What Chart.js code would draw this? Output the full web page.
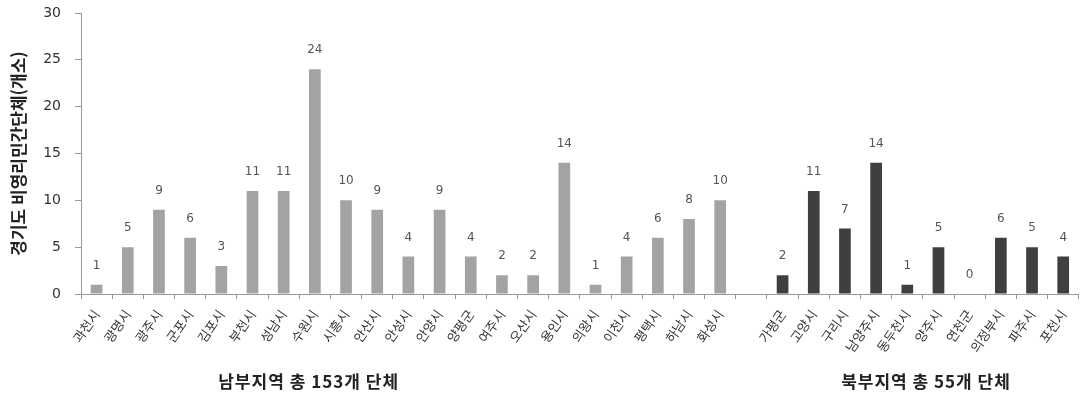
<!DOCTYPE html>
<html lang="ko">
<head>
    <meta charset="UTF-8">
    <title>경기도 비영리민간단체</title>
    <script src="https://cdn.jsdelivr.net/npm/chart.js"></script>
    <style>
        body { margin: 0; background: #fff; }
        .chart-box { width: 1084px; height: 394px; }
    </style>
</head>
<body>
    <div class="chart-box">
        <canvas id="ngoChart"></canvas>
    </div>

    <script>
        // 남부지역
        const southCities = ['과천시', '광명시', '광주시', '군포시', '김포시', '부천시', '성남시', '수원시', '시흥시', '안산시',
            '안성시', '안양시', '양평군', '여주시', '오산시', '용인시', '의왕시', '이천시', '평택시', '하남시', '화성시'];
        const southValues = [1, 5, 9, 6, 3, 11, 11, 24, 10, 9, 4, 9, 4, 2, 2, 14, 1, 4, 6, 8, 10];

        // 북부지역
        const northCities = ['가평군', '고양시', '구리시', '남양주시', '동두천시', '양주시', '연천군', '의정부시', '파주시', '포천시'];
        const northValues = [2, 11, 7, 14, 1, 5, 0, 6, 5, 4];

        const groupTitles = ['남부지역 총 153개 단체', '북부지역 총 55개 단체'];
        const yTicks = [0, 5, 10, 15, 20, 25, 30];

        // 두 지역 사이에 빈 칸 하나
        const labels = [...southCities, '', ...northCities];
        const values = [...southValues, null, ...northValues];
        const barColors = labels.map((_, i) => i < southCities.length ? '#a3a3a3' : '#3f3f3f');

        const numFont = "'DejaVu Sans', 'Noto Sans CJK KR', sans-serif";
        const korFont = "'Noto Sans CJK KR', 'DejaVu Sans', sans-serif";

        // 막대 위 값 표시
        const valueLabels = {
            id: 'valueLabels',
            afterDatasetsDraw(chart) {
                const ctx = chart.ctx;
                const meta = chart.getDatasetMeta(0);
                ctx.save();
                ctx.font = "12px " + numFont;
                ctx.fillStyle = '#555';
                ctx.textAlign = 'center';
                ctx.textBaseline = 'middle';
                meta.data.forEach((bar, i) => {
                    const v = values[i];
                    if (v === null) return;
                    ctx.fillText(String(v), bar.x, bar.y - 19);
                });
                ctx.restore();
            }
        };

        // 지역 구분 제목
        const groupLabels = {
            id: 'groupLabels',
            afterDraw(chart) {
                const ctx = chart.ctx;
                const x = chart.scales.x;
                ctx.save();
                ctx.font = "bold 17px " + korFont;
                ctx.letterSpacing = '1px';
                ctx.fillStyle = '#222';
                ctx.textAlign = 'center';
                ctx.textBaseline = 'middle';
                ctx.fillText(groupTitles[0], x.getPixelForValue(6.8), 382);
                ctx.fillText(groupTitles[1], x.getPixelForValue(26.6), 382);
                ctx.restore();
            }
        };

        new Chart(document.getElementById('ngoChart'), {
            type: 'bar',
            data: {
                labels: labels,
                datasets: [{
                    label: '비영리민간단체',
                    data: values,
                    backgroundColor: barColors,
                    barPercentage: 0.75,
                    categoryPercentage: 0.5
                }]
            },
            options: {
                responsive: true,
                maintainAspectRatio: false,
                animation: false,
                layout: { padding: { top: 13, right: 1, bottom: 0, left: 8 } },
                plugins: {
                    legend: { display: false },
                    tooltip: { enabled: false }
                },
                scales: {
                    x: {
                        afterFit(scale) { scale.height = 100; },
                        grid: { display: true, drawOnChartArea: false, drawTicks: true, tickLength: 5, color: '#999' },
                        border: { display: true, color: '#999' },
                        ticks: {
                            autoSkip: false,
                            maxRotation: 55,
                            minRotation: 55,
                            padding: 8,
                            color: '#333',
                            font: { family: korFont, size: 13 }
                        }
                    },
                    y: {
                        min: 0,
                        max: 30,
                        afterFit(scale) {
                            scale.width = 73;
                            scale.paddingTop = 0;
                            scale.paddingBottom = 0;
                        },
                        afterBuildTicks(scale) { scale.ticks = yTicks.map(v => ({ value: v })); },
                        grid: { display: true, drawOnChartArea: false, drawTicks: true, tickLength: 6, color: '#999' },
                        border: { display: true, color: '#999' },
                        ticks: {
                            color: '#333',
                            padding: 14,
                            font: { family: numFont, size: 14 }
                        },
                        title: {
                            display: true,
                            text: '경기도 비영리민간단체(개소)',
                            color: '#222',
                            font: { family: korFont, size: 17, weight: 'bold' },
                            padding: { top: 0, bottom: 4 }
                        }
                    }
                }
            },
            plugins: [valueLabels, groupLabels]
        });
    </script>
</body>
</html>
